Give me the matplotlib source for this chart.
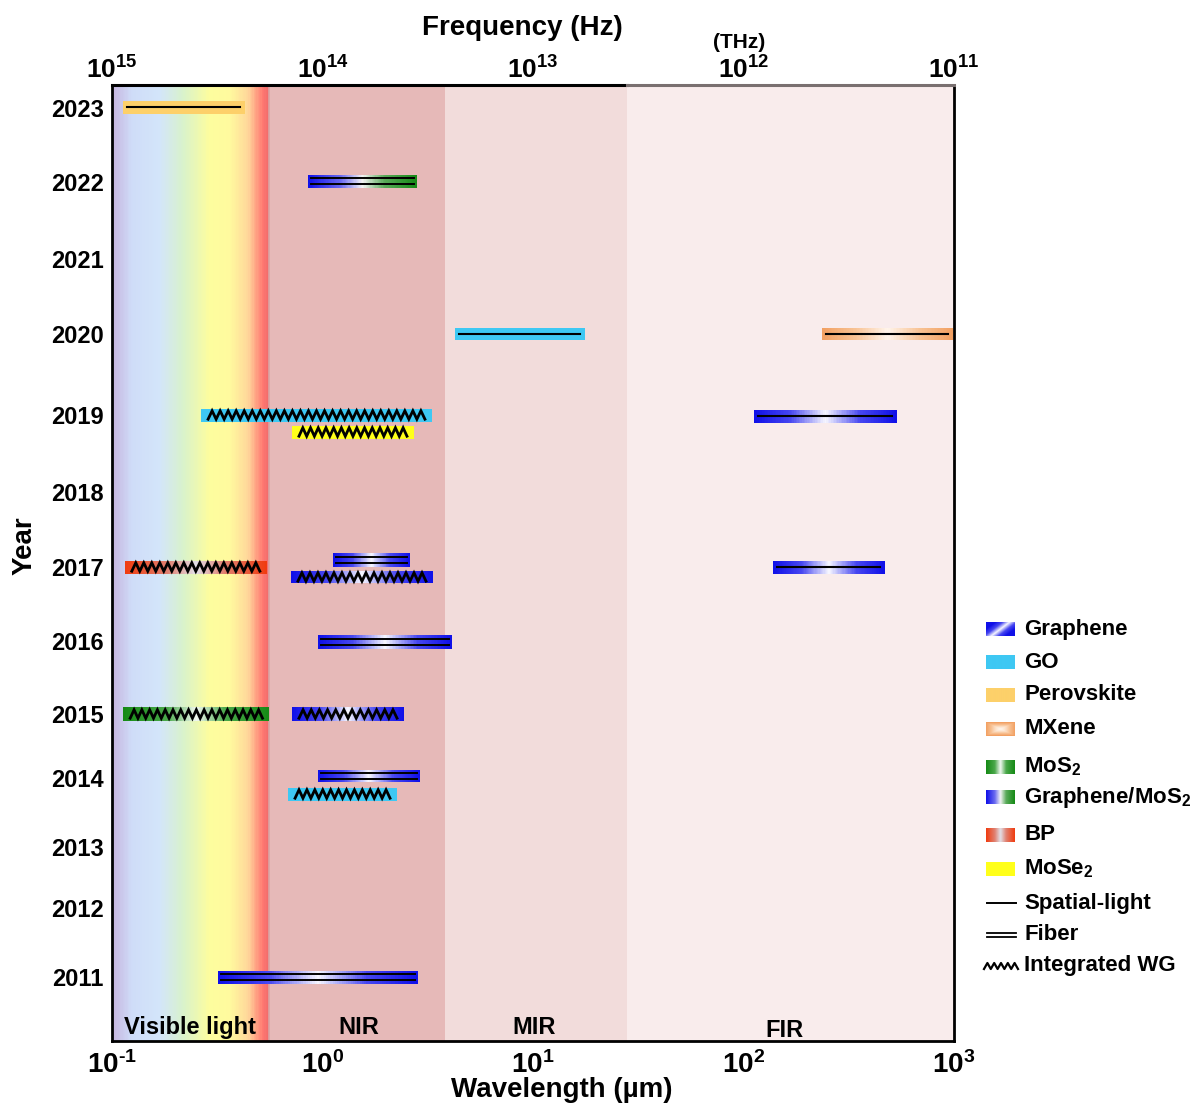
# Timeline of saturable absorber materials vs wavelength
from matplotlib.colors import LinearSegmentedColormap
from matplotlib import pyplot as plt
import numpy as np

plt.rcParams['font.family'] = ['Liberation Sans', 'DejaVu Sans']
plt.rcParams['font.weight'] = 'bold'
plt.rcParams['mathtext.fontset'] = 'custom'
plt.rcParams['mathtext.rm'] = 'Liberation Sans:bold'
plt.rcParams['mathtext.bf'] = 'Liberation Sans:bold'
plt.rcParams['mathtext.it'] = 'Liberation Sans:bold'
plt.rcParams['mathtext.default'] = 'bf'

# Data
YEAR_TICKS = [2011, 2012, 2013, 2014, 2015, 2016, 2017, 2018, 2019, 2020, 2021, 2022, 2023]

YEARS = [2023, 2022, 2020, 2020, 2019, 2019, 2019, 2017, 2017, 2017, 2017, 2016, 2015, 2015, 2014, 2014, 2011]
MATERIALS = ['Perovskite', 'Graphene/MoS2', 'GO', 'MXene', 'GO', 'MoSe2', 'Graphene', 'Graphene', 'BP',
             'Graphene', 'Graphene', 'Graphene', 'MoS2', 'Graphene', 'Graphene', 'GO', 'Graphene']
LAMBDA_LO = [0.113, 0.853, 4.26, 236, 0.265, 0.716, 112, 1.12, 0.115, 0.708, 138, 0.952, 0.113, 0.716, 0.952, 0.686, 0.319]
LAMBDA_HI = [0.43, 2.81, 17.7, 990, 3.31, 2.72, 536, 2.60, 0.544, 3.35, 470, 4.12, 0.56, 2.44, 2.90, 2.26, 2.84]
COUPLING = ['Spatial', 'Fiber', 'Spatial', 'Spatial', 'WG', 'WG', 'Spatial', 'Fiber', 'WG',
            'WG', 'Spatial', 'Fiber', 'WG', 'WG', 'Fiber', 'WG', 'Fiber']

REGION_NAMES = ['Visible light', 'NIR', 'MIR', 'FIR']
REGION_EDGES = [0.1, 0.56, 3.8, 28, 1000]
REGION_LABEL_X = [0.235, 1.48, 10.1, 157]

WAVELENGTH_TICKS = [0.1, 1, 10, 100, 1000]
WAVELENGTH_LABELS = ['$10^{\u20101}$', '$10^{0}$', '$10^{1}$', '$10^{2}$', '$10^{3}$']
FREQUENCY_LABELS = ['$10^{15}$', '$10^{14}$', '$10^{13}$', '$10^{12}$', '$10^{11}$']

LEGEND_KEYS = ['Graphene', 'GO', 'Perovskite', 'MXene', 'MoS2', 'Graphene/MoS2', 'BP', 'MoSe2']
LEGEND_NAMES = ['Graphene', 'GO', 'Perovskite', 'MXene', 'MoS$_2$', 'Graphene/MoS$_2$', 'BP', 'MoSe$_2$']
LINE_KEYS = ['Spatial', 'Fiber', 'WG']
LINE_NAMES = ['Spatial-light', 'Fiber', 'Integrated WG']

# Layout (pixel rows of the year ticks, non uniform in the original)
ROW_KNOTS = [2010, 2011, 2012, 2013, 2014, 2015, 2016, 2017, 2018, 2019, 2020, 2021, 2022, 2023, 2024]
ROW_PX = [1046, 977, 908, 847, 778, 714, 641, 567, 492, 415, 334, 259, 182, 108, 34]
ROW_SHIFT = [-1, -1, 0, 0, 0, 17, 1, -7, 0, 10, 0, 1, 0, 0, -2, 16, 0]
DECADE_PX = 210.5
BAR_HALF = 6.5

# Colours
CMAPS = {
    'Graphene': LinearSegmentedColormap.from_list('g', [(0, '#1010e8'), (0.25, '#4646f0'), (0.5, '#f6f6ff'), (0.75, '#4646f0'), (1, '#1010e8')]),
    'GO': LinearSegmentedColormap.from_list('go', ['#3ec8f3', '#3ec8f3']),
    'Perovskite': LinearSegmentedColormap.from_list('p', ['#fdd06a', '#fdd06a']),
    'MXene': LinearSegmentedColormap.from_list('mx', [(0, '#f2a062'), (0.25, '#f8c294'), (0.5, '#fff4ea'), (0.75, '#f8c294'), (1, '#f2a062')]),
    'MoS2': LinearSegmentedColormap.from_list('m', [(0, '#168a16'), (0.3, '#4aa84a'), (0.5, '#f2f8f2'), (0.7, '#4aa84a'), (1, '#168a16')]),
    'Graphene/MoS2': LinearSegmentedColormap.from_list('gm', [(0, '#1010e8'), (0.3, '#6a6af0'), (0.5, '#f4f4f4'), (0.7, '#5aaa5a'), (1, '#168a16')]),
    'BP': LinearSegmentedColormap.from_list('bp', [(0, '#f03c10'), (0.3, '#e08070'), (0.5, '#e2e0e8'), (0.7, '#e08070'), (1, '#f03c10')]),
    'MoSe2': LinearSegmentedColormap.from_list('ms', ['#ffff1a', '#ffff1a']),
}
VISIBLE = LinearSegmentedColormap.from_list('vis', [(0, '#c6b5df'), (0.12, '#cfdcf8'), (0.3, '#d3e5fa'), (0.45, '#d8f2cc'),
                                                    (0.62, '#fdfd9e'), (0.75, '#fffa9e'), (0.87, '#ffd69a'), (0.96, '#ff7a72'), (1, '#f06a6a')])
REGION_COLORS = ['#e6b9b8', '#f2dcdb', '#f9ecec']


def forward(y):
    return -np.interp(y, ROW_KNOTS, ROW_PX)


def inverse(v):
    return np.interp(v, -np.array(ROW_PX, dtype = float), ROW_KNOTS)


def toY(px):
    return inverse(-np.asarray(px, dtype = float))


def shiftX(x, dpx):
    return x * 10 ** (dpx / DECADE_PX)


fig = plt.figure(figsize = (11.92, 11.06), dpi = 100)
ax = fig.add_axes([112 / 1192, 65 / 1106, 842 / 1192, 956 / 1106])
ax.set_xscale('log')
ax.set_yscale('function', functions = (forward, inverse))
ax.set_xlim(0.1, 1000)
ax.set_ylim(toY(1041), toY(85))

# Background regions
yBand = [toY(1041), toY(85)]
xVis = np.geomspace(REGION_EDGES[0], REGION_EDGES[1], 120)
ax.pcolormesh(xVis, yBand, np.linspace(0, 1, 119)[None, :], cmap = VISIBLE, vmin = 0, vmax = 1,
              shading = 'flat', antialiased = False, linewidth = 0, zorder = 0)
for q in range(3):
    ax.axvspan(REGION_EDGES[q + 1], REGION_EDGES[q + 2], color = REGION_COLORS[q], lw = 0, zorder = 0)
ax.axvline(REGION_EDGES[1], color = '#d8a4a4', lw = 1.2, zorder = 1)

for name, xc in zip(REGION_NAMES, REGION_LABEL_X):
    ax.text(xc, 0.014 if name != 'FIR' else 0.011, name, transform = ax.get_xaxis_transform(),
            ha = 'center', va = 'center', fontsize = 17, fontweight = 'bold')

# Bars
for q in range(len(YEARS)):
    lo, hi, mat = LAMBDA_LO[q], LAMBDA_HI[q], MATERIALS[q]
    p = np.interp(YEARS[q], ROW_KNOTS, ROW_PX) + ROW_SHIFT[q]
    xe = np.geomspace(lo, hi, 90)
    ye = [toY(p + BAR_HALF), toY(p - BAR_HALF)]
    ax.pcolormesh(xe, ye, np.linspace(0, 1, 89)[None, :], cmap = CMAPS[mat], vmin = 0, vmax = 1,
                  shading = 'flat', antialiased = False, linewidth = 0, zorder = 3)

    kind = COUPLING[q]
    if kind == 'Spatial':
        ax.plot([shiftX(lo, 4), shiftX(hi, -5)], toY([p, p]), color = 'k', lw = 1.5, zorder = 4)
    elif kind == 'Fiber':
        for d in (-2.6, 2.6):
            ax.plot([shiftX(lo, 3), shiftX(hi, -3)], toY([p + d, p + d]), color = 'k', lw = 1.4, zorder = 4)
    else:
        a, b = np.log10(lo) + 7 / DECADE_PX, np.log10(hi) - 7 / DECADE_PX
        n = max(int(round((b - a) * DECADE_PX / 8)), 2)
        xs = 10 ** np.linspace(a, b, 2 * n + 1)
        ps = p + np.where(np.arange(2 * n + 1) % 2 == 0, 4.2, -4.2)
        ax.plot(xs, toY(ps), color = 'k', lw = 2.0, zorder = 4, solid_joinstyle = 'miter')

# Axes styling
ax.set_yticks(YEAR_TICKS)
ax.set_yticklabels([str(y) for y in YEAR_TICKS], fontsize = 17, fontweight = 'bold')
ax.set_xticks(WAVELENGTH_TICKS)
ax.set_xticklabels(WAVELENGTH_LABELS, fontsize = 20)
ax.xaxis.set_minor_locator(plt.NullLocator())
ax.yaxis.set_minor_locator(plt.NullLocator())
ax.tick_params(axis = 'y', length = 0, pad = 6)
ax.tick_params(axis = 'x', length = 0, pad = 7)

top = ax.secondary_xaxis('top')
top.set_xticks(WAVELENGTH_TICKS)
top.set_xticklabels(FREQUENCY_LABELS, fontsize = 19)
top.xaxis.set_minor_locator(plt.NullLocator())
top.tick_params(length = 0, pad = 1)
top.spines['top'].set_visible(False)

for side in ['left', 'right', 'bottom']:
    ax.spines[side].set_linewidth(2.0)
ax.spines['top'].set_visible(False)
ax.plot([0.1, REGION_EDGES[3]], [1, 1], color = 'k', lw = 2.2, transform = ax.get_xaxis_transform(), clip_on = False, zorder = 6)
ax.plot([REGION_EDGES[3], 1000], [1, 1], color = '#7a7070', lw = 2.2, transform = ax.get_xaxis_transform(), clip_on = False, zorder = 6)

fig.text(522 / 1192, 1 - 28 / 1106, 'Frequency (Hz)', ha = 'center', va = 'center', fontsize = 20, fontweight = 'bold')
fig.text(739 / 1192, 1 - 43 / 1106, '(THz)', ha = 'center', va = 'center', fontsize = 15, fontweight = 'bold')
fig.text(562 / 1192, 1 - 1090 / 1106, 'Wavelength (\u00b5m)', ha = 'center', va = 'center', fontsize = 20, fontweight = 'bold')
fig.text(25 / 1192, 1 - 546 / 1106, 'Year', ha = 'center', va = 'center', rotation = 90, fontsize = 20, fontweight = 'bold')

# Legend drawn in a pixel overlay
lax = fig.add_axes([0, 0, 1, 1])
lax.set_xlim(0, 1192)
lax.set_ylim(1106, 0)
lax.axis('off')

swatchY = [629, 662, 695, 729, 767, 797, 835, 869]
grad = np.tile(np.linspace(0, 1, 60), (14, 1))
for key, name, yc in zip(LEGEND_KEYS, LEGEND_NAMES, swatchY):
    img = grad
    if key == 'Graphene':
        yy, xx = np.mgrid[0:1:14j, 0:1:60j]
        img = np.clip(0.5 + (xx - 0.5) * 1.0 + (yy - 0.5) * 0.6, 0, 1)
    elif key == 'MXene':
        yy, xx = np.mgrid[-1:1:14j, -1:1:60j]
        img = 0.5 + 0.5 * np.maximum(np.abs(xx) ** 1.5, np.abs(yy) ** 1.5)
        img = np.where(np.arange(60)[None, :] < 30, 1 - img, img)
    lax.imshow(img, cmap = CMAPS[key], vmin = 0, vmax = 1, extent = (986, 1015, yc + 7, yc - 7), aspect = 'auto', interpolation = 'bilinear')
    lax.text(1024, yc, name, ha = 'left', va = 'center', fontsize = 16, fontweight = 'bold')

lineY = [903, 935, 966]
for key, name, yc in zip(LINE_KEYS, LINE_NAMES, lineY):
    if key == 'Spatial':
        lax.plot([987, 1016], [yc, yc], color = 'k', lw = 1.4)
    elif key == 'Fiber':
        for d in (-2.2, 2.2):
            lax.plot([987, 1016], [yc + d, yc + d], color = 'k', lw = 1.3)
    else:
        xs = np.linspace(984, 1018, 11)
        lax.plot(xs, yc + np.where(np.arange(11) % 2 == 0, 3, -3), color = 'k', lw = 1.6)
    lax.text(1024, yc, name, ha = 'left', va = 'center', fontsize = 16, fontweight = 'bold')

plt.savefig('out.png', dpi = 100)
plt.close()
